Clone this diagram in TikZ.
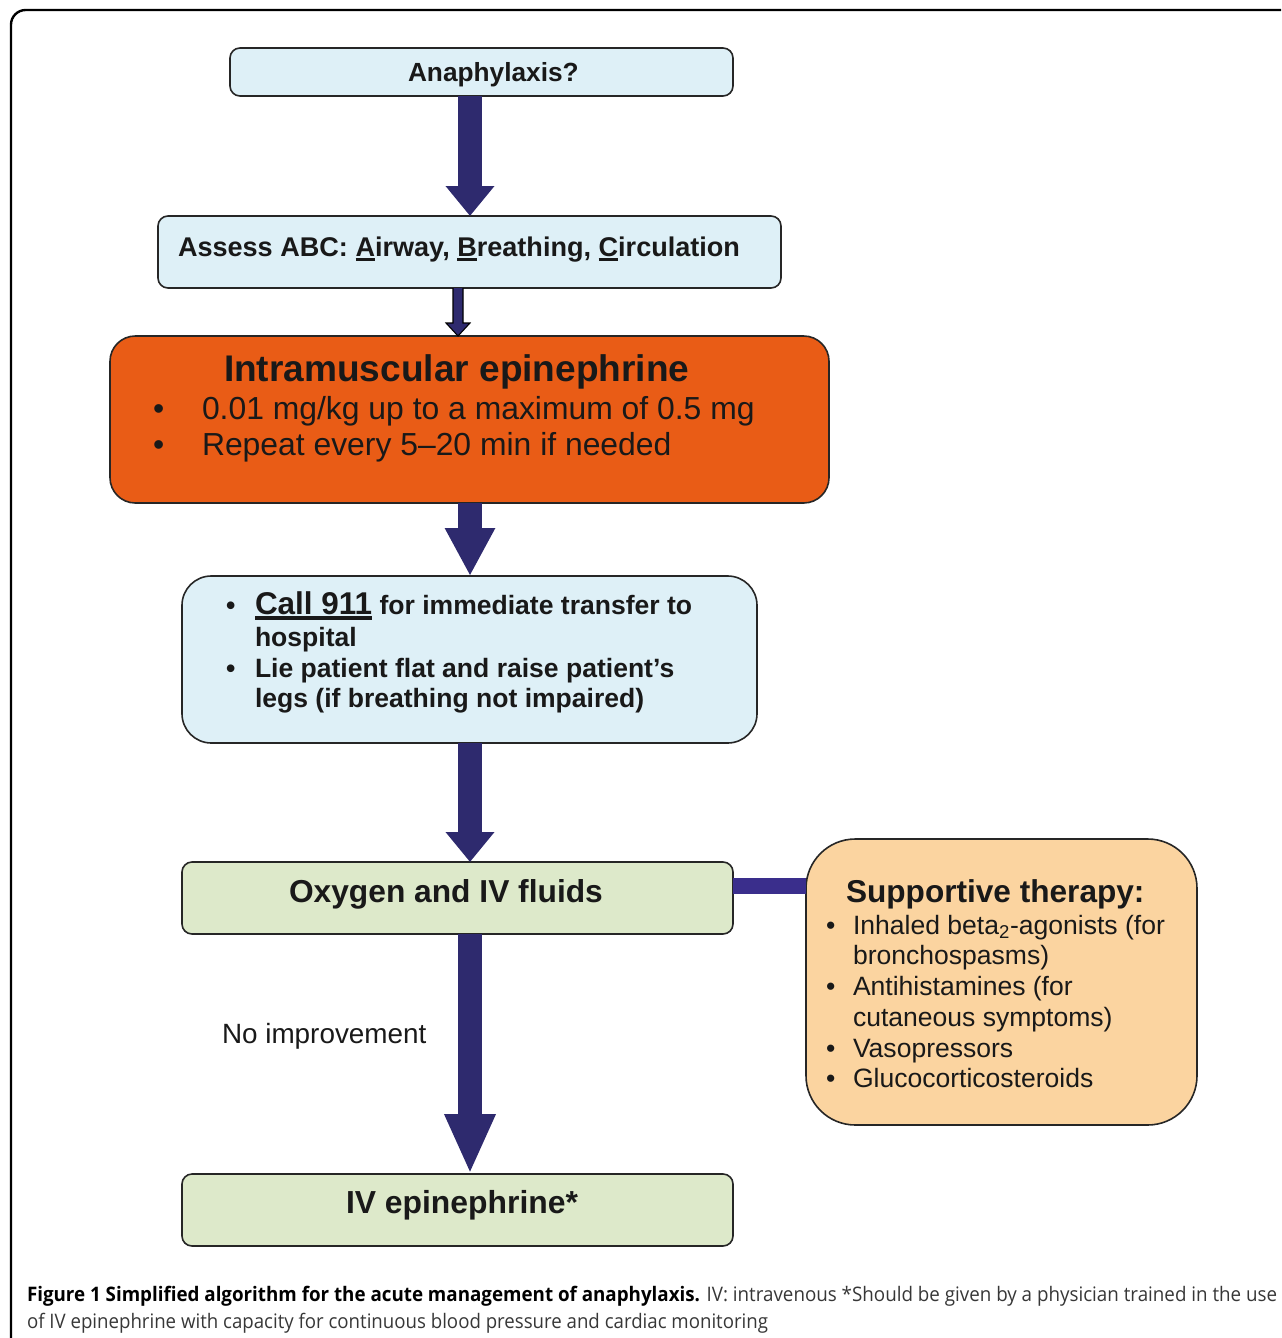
\documentclass[tikz,border=0pt]{standalone}
\usepackage{fontspec}
\setmainfont{Liberation Sans}
\newfontfamily\capfont{Open Sans}
\usetikzlibrary{arrows.meta,calc,fit}
\definecolor{lblue}{RGB}{222,240,247}
\definecolor{orng}{RGB}{233,92,22}
\definecolor{lgreen}{RGB}{221,233,202}
\definecolor{peach}{RGB}{251,212,160}
\definecolor{navy}{RGB}{46,42,110}
\definecolor{purp}{RGB}{58,46,140}
\definecolor{tcol}{RGB}{25,25,25}
\definecolor{capgray}{RGB}{55,55,55}
\newcommand\fs[1]{\fontsize{#1}{#1}\selectfont}
\newcommand\myul[1]{\setbox0=\hbox{#1}\rlap{\rule[-0.19em]{\wd0}{0.12em}}\box0}
\begin{document}
\begin{tikzpicture}[x=0.75pt,y=-0.75pt,
  box/.style={draw=black!85, line width=1.2pt, inner sep=0pt, outer sep=0pt},
  txt/.style={anchor=base west, inner sep=0pt, outer sep=0pt, text=tcol},
  bigarrow/.style={draw=navy, line width=18pt, -{Triangle[width=35.25pt,length=#1]}},
  bar/.style={draw=purp, line width=12pt}
  ]
\useasboundingbox (0,0) rectangle (1281,1338);
\clip (0,0) rectangle (1281,1338);
% outer frame
\draw[line width=1.8pt, rounded corners=11pt] (11,10) rectangle (1330,1390);
% boxes
\node[box, fill=lblue, rounded corners=7.5pt, fit={(230,48)(733,96)}] (b1) {};
\node[box, fill=lblue, rounded corners=7.5pt, fit={(158,216)(781,288)}] (b2) {};
\node[box, fill=orng, rounded corners=19pt, fit={(110,336)(829,503)}] (b3) {};
\node[box, fill=lblue, rounded corners=22pt, fit={(182,576)(757,743)}] (b4) {};
\node[box, fill=lgreen, rounded corners=7.5pt, fit={(182,862)(733,934)}] (b5) {};
\node[box, fill=lgreen, rounded corners=7.5pt, fit={(182,1174)(733,1246)}] (b6) {};
\node[box, fill=peach, rounded corners=37pt, fit={(806,839)(1197,1125)}] (sup) {};
% arrows
\coordinate (ax) at (470,0);
\coordinate (sx) at (458,0);
\coordinate (by) at (0,886);
\draw[bigarrow=22.5pt] (b1.south -| ax) -- (b2.north -| ax);
\path (b2.south -| sx) coordinate (a2s) (b3.north -| sx) coordinate (a2e);
\draw[fill=navy, draw=black, line width=0.8pt, line join=miter]
  ($(a2s)+(-5,0)$) -- ($(a2e)+(-5,-13)$) -- ($(a2e)+(-12,-13)$) -- (a2e)
  -- ($(a2e)+(12,-13)$) -- ($(a2e)+(5,-13)$) -- ($(a2s)+(5,0)$);
\draw[bigarrow=36pt] (b3.south -| ax) -- (b4.north -| ax);
\draw[bigarrow=22.5pt] (b4.south -| ax) -- (b5.north -| ax);
\draw[bigarrow=45pt] (b5.south -| ax) -- (b6.north -| ax);
\draw[bar] (b5.east |- by) -- (sup.west |- by);
% texts
\node[txt, font=\bfseries\fs{19.7pt}] (t1) at (408,82) {Anaphylaxis?};
\node[txt, font=\bfseries\fs{20.3pt}] (t2) at (178,256) {Assess ABC: \myul{A}irway, \myul{B}reathing, \myul{C}irculation};
\node[txt, font=\bfseries\fs{27.8pt}] (t3) at (224,381) {Intramuscular epinephrine};
\node[txt, font=\fs{23.9pt}] (t3p1) at (153,419) {•};
\node[txt, font=\fs{23.9pt}] (t3a) at (202,419) {0.01 mg/kg up to a maximum of 0.5 mg};
\node[txt, font=\fs{23.9pt}] (t3p2) at (153,455) {•};
\node[txt, font=\fs{23.9pt}] (t3b) at (202,455) {Repeat every 5–20 min if needed};
\node[txt, font=\bfseries\fs{19.9pt}] (t4p1) at (226,614) {•};
\node[txt, font=\bfseries\fs{19.9pt}] (t4a) at (255,614) {{\fs{23.6pt}\myul{Call 911}} for immediate transfer to};
\node[txt, font=\bfseries\fs{19.9pt}] (t4b) at (255,646) {hospital};
\node[txt, font=\bfseries\fs{19.9pt}] (t4p2) at (226,677) {•};
\node[txt, font=\bfseries\fs{19.9pt}] (t4c) at (255,677) {Lie patient flat and raise patient’s};
\node[txt, font=\bfseries\fs{19.9pt}] (t4d) at (255,707) {legs (if breathing not impaired)};
\node[txt, font=\bfseries\fs{23.8pt}] (t5) at (289,902) {Oxygen and IV fluids};
\node[txt, font=\fs{20.9pt}] (tno) at (222,1043) {No improvement};
\node[txt, font=\bfseries\fs{23.9pt}] (t6) at (346,1213) {IV epinephrine*};
\node[txt, font=\bfseries\fs{23.7pt}] (ts) at (846,902) {Supportive therapy:};
\node[txt, font=\fs{19.9pt}] (tsp1) at (826,934.5) {•};
\node[txt, font=\fs{19.9pt}] (ts1) at (853,934.5) {Inhaled beta\textsubscript{2}-agonists (for};
\node[txt, font=\fs{19.9pt}] (ts2) at (853,964.5) {bronchospasms)};
\node[txt, font=\fs{19.9pt}] (tsp3) at (826,995.5) {•};
\node[txt, font=\fs{19.9pt}] (ts3) at (853,995.5) {Antihistamines (for};
\node[txt, font=\fs{19.9pt}] (ts4) at (853,1026.5) {cutaneous symptoms)};
\node[txt, font=\fs{19.9pt}] (tsp5) at (826,1057.5) {•};
\node[txt, font=\fs{19.9pt}] (ts5) at (853,1057.5) {Vasopressors};
\node[txt, font=\fs{19.9pt}] (tsp6) at (826,1087.5) {•};
\node[txt, font=\fs{19.9pt}] (ts6) at (853,1087.5) {Glucocorticosteroids};
% caption
\node[txt, text=capgray, font=\capfont\fs{15pt}] (cap1) at (27,1301)
  {\resizebox{937.5pt}{\height}{\textbf{\color{black}Figure 1 Simplified algorithm for the acute management of anaphylaxis.} IV: intravenous *Should be given by a physician trained in the use}};
\node[txt, text=capgray, font=\capfont\fs{15pt}] (cap2) at (27,1328)
  {\resizebox{555.75pt}{\height}{of IV epinephrine with capacity for continuous blood pressure and cardiac monitoring}};
\end{tikzpicture}
\end{document}
